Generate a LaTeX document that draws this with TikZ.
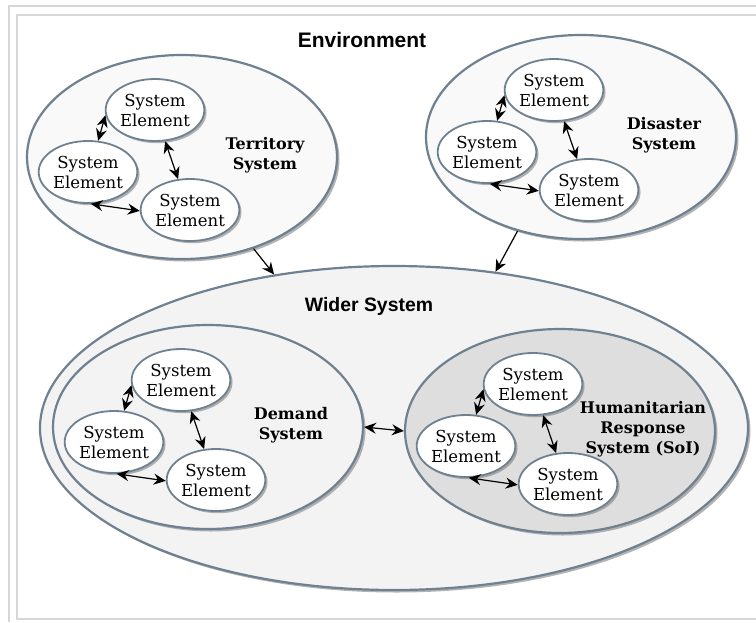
\documentclass[tikz,border=0pt]{standalone}
\usepackage{fontspec}
\setmainfont{DejaVu Serif}
\setsansfont{Liberation Sans}
\usepackage{xcolor}
\usetikzlibrary{arrows.meta}
\usetikzlibrary{shapes}
\usetikzlibrary{shadows}

\definecolor{rim}{HTML}{6F8191}
\definecolor{paleA}{HTML}{F9F9F9}
\definecolor{paleB}{HTML}{F3F3F3}
\definecolor{paleC}{HTML}{DEDEDE}
\definecolor{frameline}{HTML}{D6D6D6}

\begin{document}
\begin{tikzpicture}[x=1pt, y=-1pt, >={Stealth[length=12pt, width=11pt, inset=4pt]}] %y nach unten, wie im Bild
\tikzstyle{sys} = [ellipse, draw=rim, line width=2.2pt, minimum width=310pt, minimum height=204pt, inner sep=0pt,
  drop shadow={shadow xshift=2.5pt, shadow yshift=-2.5pt, fill=black!50, opacity=0.6}]
\tikzstyle{elem} = [ellipse, draw=rim, line width=1.8pt, fill=white, minimum width=96pt, minimum height=62pt, inner sep=0pt,
  align=center, font=\fontsize{16.5}{20}\selectfont,
  drop shadow={shadow xshift=2.2pt, shadow yshift=-2.2pt, fill=black!50, opacity=0.6}]
\tikzstyle{syslabel} = [align=center, font=\bfseries\fontsize{16}{20}\selectfont]
\tikzstyle{title} = [font=\sffamily\bfseries\fontsize{21}{24}\selectfont]
\tikzstyle{link} = [line width=1.2pt, black]
\useasboundingbox (0,0) rectangle (756,622);
\draw[frameline, line width=1.5pt] (9,622) -- (9,6) -- (756,6);
\draw[frameline, line width=1.5pt] (756,15) -- (17,15) -- (17,619) -- (756,619);
\node[title] (env) at (362,40) {Environment};
\node[sys, fill=paleB, minimum width=708pt, minimum height=324pt] (wider) at (394,428) {};
\node[title, font=\sffamily\bfseries\fontsize{19.4}{24}\selectfont] (widerlab) at (369,306) {Wider System};
\foreach \nm/\cx/\cy/\fc/\lab in {terr/182/157/paleA/{Territory\\System}, dis/581/137/paleA/{Disaster\\System},
    dem/208/427/paleB/{Demand\\System}, hum/560/431/paleC/{Humanitarian\\Response\\System (SoI)}}
{
\node[sys, fill=\fc] (\nm) at (\cx,\cy) {};
\node[elem] (\nm-t) at ([shift={(-27,-47)}]\nm.center) {System\\Element};
\node[elem] (\nm-l) at ([shift={(-94,15)}]\nm.center) {System\\Element};
\node[elem] (\nm-r) at ([shift={(8,53)}]\nm.center) {System\\Element};
\node[syslabel] (\nm-lab) at ([shift={(83,-2)}]\nm.center) {\lab};
\draw[<->, link] (\nm-t.186) -- (\nm-l.72);
\draw[<->, link] (\nm-t.-72) -- (\nm-r.111);
\draw[<->, link] (\nm-l.-85) -- (\nm-r.181);
}
\draw[->, link] (terr.-52) -- (wider.128);
\draw[->, link] (dis.236) -- (wider.57);
\draw[<->, link] (dem.east) -- (hum.west);
\end{tikzpicture}
\end{document}
